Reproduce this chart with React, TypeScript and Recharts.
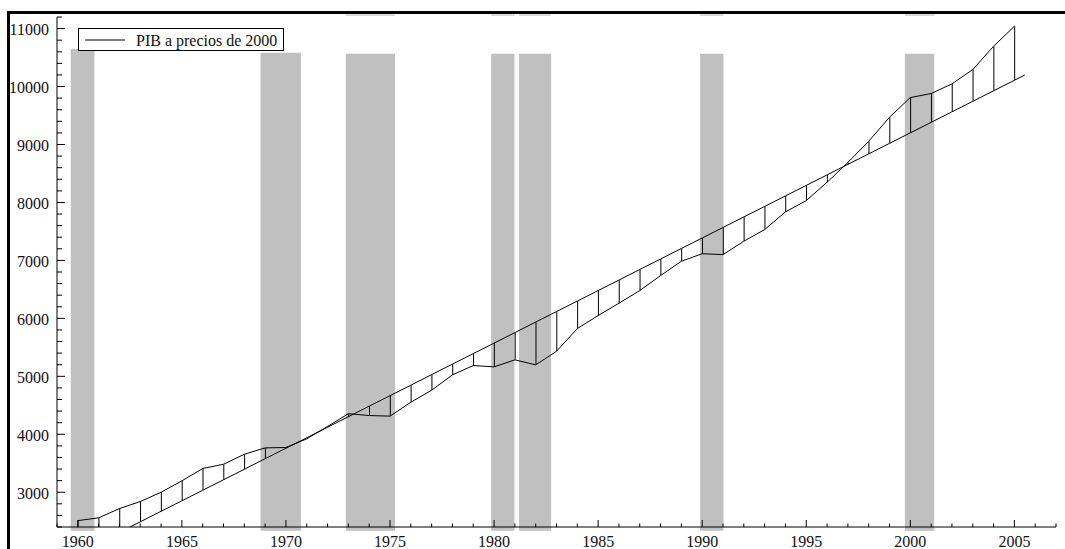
import React from 'react';
import { ComposedChart, XAxis, YAxis, Line, Bar, ReferenceArea, Legend } from 'recharts';

const FONT = '"Liberation Serif", "Times New Roman", Times, serif';

// años y PIB a precios de 2000
const years = [
  1960, 1961, 1962, 1963, 1964, 1965, 1966, 1967, 1968, 1969,
  1970, 1971, 1972, 1973, 1974, 1975, 1976, 1977, 1978, 1979,
  1980, 1981, 1982, 1983, 1984, 1985, 1986, 1987, 1988, 1989,
  1990, 1991, 1992, 1993, 1994, 1995, 1996, 1997, 1998, 1999,
  2000, 2001, 2002, 2003, 2004, 2005,
];
const pib = [
  2510, 2558, 2718, 2839, 3000, 3196, 3409, 3483, 3655, 3765,
  3772, 3921, 4135, 4355, 4323, 4313, 4553, 4760, 5025, 5186,
  5163, 5284, 5198, 5432, 5824, 6048, 6261, 6480, 6738, 6986,
  7115, 7100, 7331, 7532, 7837, 8032, 8348, 8690, 9056, 9470,
  9810, 9879, 10046, 10293, 10695, 11040,
];
// tendencia lineal
const trend = [
  1945, 2126, 2308, 2489, 2671, 2852, 3034, 3215, 3396, 3578,
  3759, 3940, 4122, 4303, 4485, 4666, 4847, 5029, 5210, 5392,
  5573, 5754, 5936, 6117, 6299, 6480, 6661, 6843, 7024, 7206,
  7387, 7568, 7750, 7931, 8113, 8294, 8475, 8657, 8838, 9020,
  9201, 9382, 9564, 9745, 9927, 10108,
];
const trendEndYear = 2005.5;
const trendEndValue = 10199;

// recesiones (bandas grises)
const recStart = [1959.66, 1968.78, 1972.88, 1979.86, 1981.2, 1989.9, 1999.74];
const recEnd = [1960.8, 1970.72, 1975.24, 1980.98, 1982.74, 1991.02, 2001.15];
const recTop = [10650, 10585, 10565, 10565, 10565, 10565, 10565];
const recStrip = [false, false, true, true, true, true, true];
const recBottom = 2335;

const xTicks = [
  1959, 1960, 1961, 1962, 1963, 1964, 1965, 1966, 1967, 1968, 1969,
  1970, 1971, 1972, 1973, 1974, 1975, 1976, 1977, 1978, 1979,
  1980, 1981, 1982, 1983, 1984, 1985, 1986, 1987, 1988, 1989,
  1990, 1991, 1992, 1993, 1994, 1995, 1996, 1997, 1998, 1999,
  2000, 2001, 2002, 2003, 2004, 2005, 2006, 2007,
];
const yTicks = [
  2400, 2600, 2800, 3000, 3200, 3400, 3600, 3800, 4000, 4200, 4400,
  4600, 4800, 5000, 5200, 5400, 5600, 5800, 6000, 6200, 6400, 6600,
  6800, 7000, 7200, 7400, 7600, 7800, 8000, 8200, 8400, 8600, 8800,
  9000, 9200, 9400, 9600, 9800, 10000, 10200, 10400, 10600, 10800,
  11000, 11200,
];

const data: any[] = years.map((year, i) => ({
  year,
  pib: pib[i],
  trend: trend[i],
  gap: [Math.min(pib[i], trend[i]), Math.max(pib[i], trend[i])],
}));
data.push({ year: trendEndYear, trend: trendEndValue });

function XTick({ x, y, payload }: any) {
  const major = payload.value % 5 === 0;
  return (
    <g>
      <line x1={x} y1={y} x2={x} y2={y - (major ? 7 : 3.5)} stroke="#000" />
      {major && (
        <text x={x} y={y + 19.5} textAnchor="middle" fontSize={16} fontFamily={FONT} fill="#111">
          {payload.value}
        </text>
      )}
    </g>
  );
}

function YTick({ x, y, payload }: any) {
  const major = payload.value % 1000 === 0;
  return (
    <g>
      <line x1={x} y1={y} x2={x + (major ? 8 : 5)} y2={y} stroke="#000" />
      {major && (
        <text x={x - 8} y={y + 6.5} textAnchor="end" fontSize={16} fontFamily={FONT} fill="#111">
          {payload.value}
        </text>
      )}
    </g>
  );
}

function LegendBox() {
  return (
    <svg width={206} height={23} style={{ display: 'block' }}>
      <rect x={0.5} y={0.5} width={205} height={22} fill="#fff" stroke="#000" />
      <line x1={7} x2={47} y1={12} y2={12} stroke="#000" />
      <text x={58} y={17.5} fontSize={16} fontFamily={FONT} fill="#111">
        PIB a precios de 2000
      </text>
    </svg>
  );
}

export default function App() {
  return (
    <div style={{ position: 'relative', width: 1065, height: 549, background: '#fff' }}>
      <style>{'body{margin:0}'}</style>
      <ComposedChart width={1065} height={549} data={data} margin={{ top: 17, right: 9, bottom: 0, left: 0 }}>
        <XAxis
          dataKey="year"
          type="number"
          domain={[1959, 2007]}
          ticks={xTicks}
          interval={0}
          height={22}
          tickSize={0}
          tickMargin={0}
          tickLine={false}
          axisLine={{ stroke: '#000' }}
          tick={<XTick />}
          allowDataOverflow
        />
        <YAxis
          type="number"
          domain={[2400, 11200]}
          ticks={yTicks}
          interval={0}
          width={57}
          tickSize={0}
          tickMargin={0}
          tickLine={false}
          axisLine={{ stroke: '#000' }}
          tick={<YTick />}
          allowDataOverflow
        />
        {recStart.map((s, i) => (
          <ReferenceArea
            key={'r' + i}
            x1={s}
            x2={recEnd[i]}
            y1={recBottom}
            y2={recTop[i]}
            fill="#c0c0c0"
            fillOpacity={1}
            stroke="none"
            ifOverflow="visible"
          />
        ))}
        {recStart.map((s, i) =>
          recStrip[i] ? (
            <ReferenceArea
              key={'s' + i}
              x1={s}
              x2={recEnd[i]}
              y1={11222}
              y2={11245}
              fill="#c8c8c8"
              fillOpacity={1}
              stroke="none"
              ifOverflow="visible"
            />
          ) : null
        )}
        <Bar dataKey="gap" barSize={1} fill="#000" isAnimationActive={false} />
        <Line dataKey="trend" type="linear" stroke="#000" strokeWidth={1} dot={false} isAnimationActive={false} />
        <Line dataKey="pib" type="linear" stroke="#000" strokeWidth={1} dot={false} isAnimationActive={false} />
        <Legend
          layout="horizontal"
          verticalAlign="middle"
          align="center"
          wrapperStyle={{ top: 28, left: 78, width: 206, height: 23 }}
          content={() => <LegendBox />}
        />
      </ComposedChart>
      <div style={{ position: 'absolute', left: 7, top: 11, width: 1058, height: 3, background: '#000' }} />
      <div style={{ position: 'absolute', left: 7, top: 11, width: 3, height: 538, background: '#000' }} />
    </div>
  );
}
